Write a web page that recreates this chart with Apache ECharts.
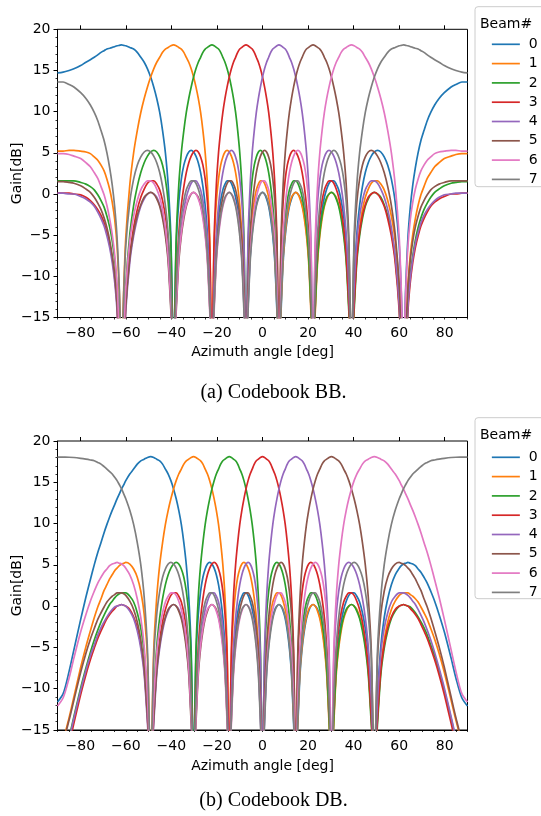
<!DOCTYPE html>
<html>
<head>
<meta charset="utf-8">
<script src="https://cdn.jsdelivr.net/npm/echarts/dist/echarts.min.js"></script>
<style>
html,body{margin:0;padding:0;background:#fff;}
#chart{width:541px;height:816px;}
</style>
</head>
<body>
<div id="chart"></div>
<script>
// Azimuth angles (deg) shared by every curve
const angle = [
-90,-87.51,-84.91,
-82.81,-79.82,-77.52,-75.58,-73.87,-72.32,-70.89,-69.55,-68.30,-67.11,-65.98,-64.89,-63.85,-62.84,-61.87,-60.93,-60.02,
-58.26,-56.58,-54.98,-53.43,-51.94,-50.50,-49.10,-47.75,-46.43,-45.13,-43.87,-42.63,-41.41,-40.22,-39.05,-37.89,-36.76,-35.64,-34.54,-33.45,-32.37,-31.31,-30.26,-29.22,-28.19,-27.17,-26.16,-25.16,-24.17,-23.18,-22.21,-21.23,-20.27,-19.31,-18.36,-17.41,-16.47,-15.53,-14.59,-13.66,-12.74,-11.81,-10.89,-9.98,-9.06,-8.15,-7.24,-6.33,-5.42,-4.52,-3.61,-2.71,-1.80,-0.90,
0,
0.90,1.80,2.71,3.61,4.52,5.42,6.33,7.24,8.15,9.06,9.98,10.89,11.81,12.74,13.66,14.59,15.53,16.47,17.41,18.36,19.31,20.27,21.23,22.21,23.18,24.17,25.16,26.16,27.17,28.19,29.22,30.26,31.31,32.37,33.45,34.54,35.64,36.76,37.89,39.05,40.22,41.41,42.63,43.87,45.13,46.43,47.75,49.10,50.50,51.94,53.43,54.98,56.58,58.26,
60.02,60.93,61.87,62.84,63.85,64.89,65.98,67.11,68.30,69.55,70.89,72.32,73.87,75.58,77.52,79.82,82.81,
84.91,87.51,90
];

const beamNames = ['0','1','2','3','4','5','6','7'];
const beamColors = ['#1f77b4','#ff7f0e','#2ca02c','#d62728','#9467bd','#8c564b','#e377c2','#7f7f7f'];
const xTickLabels = [-80,-60,-40,-20,0,20,40,60,80];
const captionBB = '(a) Codebook BB.';
const captionDB = '(b) Codebook DB.';

// ---- Codebook BB gains (dB) ----
const bb0 = [14.7,14.8,15.0,
15.2,15.6,16.0,16.3,16.6,16.9,17.2,17.4,17.6,17.7,17.8,17.9,18.0,18.05,18.1,18.05,18.0,
17.8,17.6,17.2,16.6,16.0,15.2,
14.2,13.0,11.6,9.9,7.7,5.0,1.1,-5.3,
-20,-6.3,-1.0,1.8,3.5,4.5,5.1,5.3,
5.1,4.6,3.8,2.6,0.9,-1.4,-4.9,-11.0,
-20,-11.4,-5.7,-2.7,-0.8,0.5,1.2,1.6,
1.6,1.3,0.6,-0.4,-1.9,-4.1,-7.5,-13.4,
-20,-13.6,-7.8,-4.7,-2.6,-1.3,-0.4,0.0,
0.2,0.0,-0.6,-1.5,-3.0,-5.1,-8.3,-14.2,
-20,
-14.2,-8.3,-5.1,-3.0,-1.5,-0.6,0.0,0.2,
0.0,-0.4,-1.3,-2.6,-4.7,-7.8,-13.6,-20,
-13.4,-7.5,-4.1,-1.9,-0.4,0.6,1.3,1.6,
1.6,1.2,0.5,-0.8,-2.7,-5.7,-11.4,-20,
-11.0,-4.9,-1.4,0.9,2.6,3.8,4.6,5.1,
5.3,5.1,4.5,3.5,1.8,-1.0,
-6.3,-12.1,-20,-11.6,-5.3,-1.6,1.1,3.2,5.0,6.5,7.7,8.9,9.9,10.8,11.6,12.3,13.0,
13.3,13.6,13.6];

const bb1 = [5.2,5.2,5.3,
5.3,5.2,5.1,4.9,4.5,4.1,3.5,2.8,1.8,0.6,-1.0,-3.1,-6.3,-12.1,-20,-11.6,-5.3,
1.1,5.0,7.7,9.9,11.6,13.0,14.2,15.2,16.0,16.6,17.2,17.6,17.8,18.0,18.1,
18.0,17.8,17.6,17.2,16.6,16.0,15.2,
14.2,13.0,11.6,9.9,7.7,5.0,1.1,-5.3,
-20,-6.3,-1.0,1.8,3.5,4.5,5.1,5.3,
5.1,4.6,3.8,2.6,0.9,-1.4,-4.9,-11.0,
-20,-11.4,-5.7,-2.7,-0.8,0.5,1.2,1.6,
1.6,1.3,0.6,-0.4,-1.9,-4.1,-7.5,-13.4,
-20,-13.6,-7.8,-4.7,-2.6,-1.3,-0.4,0.0,
0.2,0.0,-0.6,-1.5,-3.0,-5.1,-8.3,-14.2,
-20,
-14.2,-8.3,-5.1,-3.0,-1.5,-0.6,0.0,0.2,
0.0,-0.4,-1.3,-2.6,-4.7,-7.8,-13.6,-20,
-13.4,-7.5,-4.1,-1.9,-0.4,0.6,1.3,1.6,
1.6,1.2,0.5,-0.8,-2.7,-5.7,
-11.4,-17.3,-20,-17.1,-11.0,-7.4,-4.9,-3.0,-1.4,-0.1,0.9,1.9,2.6,3.3,3.8,4.3,4.6,
4.8,4.9,4.9];

const bb2 = [1.6,1.6,1.6,
1.6,1.4,1.2,0.9,0.5,-0.1,-0.8,-1.6,-2.7,-4.0,-5.7,-8.0,-11.4,-17.3,-20,-17.1,-11.0,
-4.9,-1.4,0.9,2.6,3.8,4.6,5.1,
5.3,5.1,4.5,3.5,1.8,-1.0,-6.3,-20,
-5.3,1.1,5.0,7.7,9.9,11.6,13.0,14.2,
15.2,16.0,16.6,17.2,17.6,17.8,18.0,18.1,
18.0,17.8,17.6,17.2,16.6,16.0,15.2,
14.2,13.0,11.6,9.9,7.7,5.0,1.1,-5.3,
-20,-6.3,-1.0,1.8,3.5,4.5,5.1,5.3,
5.1,4.6,3.8,2.6,0.9,-1.4,-4.9,-11.0,
-20,-11.4,-5.7,-2.7,-0.8,0.5,1.2,1.6,
1.6,1.3,0.6,-0.4,-1.9,-4.1,-7.5,-13.4,
-20,-13.6,-7.8,-4.7,-2.6,-1.3,-0.4,0.0,
0.2,0.0,-0.6,-1.5,-3.0,-5.1,-8.3,-14.2,
-20,
-14.2,-8.3,-5.1,-3.0,-1.5,-0.6,0.0,0.2,
0.0,-0.4,-1.3,-2.6,-4.7,-7.8,
-13.6,-19.5,-20,-19.4,-13.4,-9.9,-7.5,-5.6,-4.1,-2.9,-1.9,-1.1,-0.4,0.2,0.6,1.0,1.3,
1.4,1.5,1.5];

const bb3 = [0.1,0.1,0.1,
0.0,-0.1,-0.4,-0.8,-1.3,-1.9,-2.6,-3.5,-4.7,-6.0,-7.8,-10.2,-13.6,-19.5,-20,-19.4,-13.4,
-7.5,-4.1,-1.9,-0.4,0.6,1.3,1.6,
1.6,1.2,0.5,-0.8,-2.7,-5.7,-11.4,-20,
-11.0,-4.9,-1.4,0.9,2.6,3.8,4.6,5.1,
5.3,5.1,4.5,3.5,1.8,-1.0,-6.3,-20,
-5.3,1.1,5.0,7.7,9.9,11.6,13.0,14.2,
15.2,16.0,16.6,17.2,17.6,17.8,18.0,18.1,
18.0,17.8,17.6,17.2,16.6,16.0,15.2,
14.2,13.0,11.6,9.9,7.7,5.0,1.1,-5.3,
-20,-6.3,-1.0,1.8,3.5,4.5,5.1,5.3,
5.1,4.6,3.8,2.6,0.9,-1.4,-4.9,-11.0,
-20,-11.4,-5.7,-2.7,-0.8,0.5,1.2,1.6,
1.6,1.3,0.6,-0.4,-1.9,-4.1,-7.5,-13.4,
-20,-13.6,-7.8,-4.7,-2.6,-1.3,-0.4,0.0,
0.2,0.0,-0.6,-1.5,-3.0,-5.1,-8.3,
-14.2,-20.2,-20,-20.2,-14.2,-10.7,-8.3,-6.5,-5.1,-3.9,-3.0,-2.2,-1.5,-1.0,-0.6,-0.3,0.0,
0.0,0.1,0.1];

const bb4 = [0.1,0.1,0.0,
0.0,-0.3,-0.6,-1.0,-1.5,-2.2,-3.0,-3.9,-5.1,-6.5,-8.3,-10.7,-14.2,-20.2,-20,-20.2,-14.2,
-8.3,-5.1,-3.0,-1.5,-0.6,0.0,0.2,
0.0,-0.4,-1.3,-2.6,-4.7,-7.8,-13.6,-20,
-13.4,-7.5,-4.1,-1.9,-0.4,0.6,1.3,1.6,
1.6,1.2,0.5,-0.8,-2.7,-5.7,-11.4,-20,
-11.0,-4.9,-1.4,0.9,2.6,3.8,4.6,5.1,
5.3,5.1,4.5,3.5,1.8,-1.0,-6.3,-20,
-5.3,1.1,5.0,7.7,9.9,11.6,13.0,14.2,
15.2,16.0,16.6,17.2,17.6,17.8,18.0,18.1,
18.0,17.8,17.6,17.2,16.6,16.0,15.2,
14.2,13.0,11.6,9.9,7.7,5.0,1.1,-5.3,
-20,-6.3,-1.0,1.8,3.5,4.5,5.1,5.3,
5.1,4.6,3.8,2.6,0.9,-1.4,-4.9,-11.0,
-20,-11.4,-5.7,-2.7,-0.8,0.5,1.2,1.6,
1.6,1.3,0.6,-0.4,-1.9,-4.1,-7.5,
-13.4,-19.4,-20,-19.5,-13.6,-10.2,-7.8,-6.0,-4.7,-3.5,-2.6,-1.9,-1.3,-0.8,-0.4,-0.1,0.0,
0.1,0.1,0.1];

const bb5 = [1.5,1.5,1.4,
1.3,1.0,0.6,0.2,-0.4,-1.1,-1.9,-2.9,-4.1,-5.6,-7.5,-9.9,-13.4,-19.4,-20,-19.5,-13.6,
-7.8,-4.7,-2.6,-1.3,-0.4,0.0,
0.2,0.0,-0.6,-1.5,-3.0,-5.1,-8.3,-14.2,
-20,
-14.2,-8.3,-5.1,-3.0,-1.5,-0.6,0.0,0.2,
0.0,-0.4,-1.3,-2.6,-4.7,-7.8,-13.6,-20,
-13.4,-7.5,-4.1,-1.9,-0.4,0.6,1.3,1.6,
1.6,1.2,0.5,-0.8,-2.7,-5.7,-11.4,-20,
-11.0,-4.9,-1.4,0.9,2.6,3.8,4.6,5.1,
5.3,5.1,4.5,3.5,1.8,-1.0,-6.3,-20,
-5.3,1.1,5.0,7.7,9.9,11.6,13.0,14.2,
15.2,16.0,16.6,17.2,17.6,17.8,18.0,
18.1,18.0,17.8,17.6,17.2,16.6,16.0,15.2,
14.2,13.0,11.6,9.9,7.7,5.0,1.1,-5.3,
-20,-6.3,-1.0,1.8,3.5,4.5,5.1,5.3,
5.1,4.6,3.8,2.6,0.9,-1.4,-4.9,
-11.0,-17.1,-20,-17.3,-11.4,-8.0,-5.7,-4.0,-2.7,-1.6,-0.8,-0.1,0.5,0.9,1.2,1.4,1.6,
1.6,1.6,1.6];

const bb6 = [4.9,4.9,4.8,
4.6,4.3,3.8,3.3,2.6,1.9,0.9,-0.1,-1.4,-3.0,-4.9,-7.4,-11.0,-17.1,-20,-17.3,-11.4,
-5.7,-2.7,-0.8,0.5,1.2,1.6,
1.6,1.3,0.6,-0.4,-1.9,-4.1,-7.5,-13.4,
-20,-13.6,-7.8,-4.7,-2.6,-1.3,-0.4,0.0,
0.2,0.0,-0.6,-1.5,-3.0,-5.1,-8.3,-14.2,
-20,
-14.2,-8.3,-5.1,-3.0,-1.5,-0.6,0.0,0.2,
0.0,-0.4,-1.3,-2.6,-4.7,-7.8,-13.6,-20,
-13.4,-7.5,-4.1,-1.9,-0.4,0.6,1.3,1.6,
1.6,1.2,0.5,-0.8,-2.7,-5.7,-11.4,-20,
-11.0,-4.9,-1.4,0.9,2.6,3.8,4.6,5.1,
5.3,5.1,4.5,3.5,1.8,-1.0,-6.3,-20,
-5.3,1.1,5.0,7.7,9.9,11.6,13.0,14.2,
15.2,16.0,16.6,17.2,17.6,17.8,18.0,
18.1,18.0,17.8,17.6,17.2,16.6,16.0,15.2,
14.2,13.0,11.6,9.9,7.7,5.0,1.1,
-5.3,-11.6,-20,-12.1,-6.3,-3.1,-1.0,0.6,1.8,2.8,3.5,4.1,4.5,4.9,5.1,5.2,5.3,
5.3,5.2,5.2];

const bb7 = [13.6,13.6,13.3,
13.0,12.3,11.6,10.8,9.9,8.9,7.7,6.5,5.0,3.2,1.1,-1.6,-5.3,-11.6,-20,-12.1,-6.3,
-1.0,1.8,3.5,4.5,5.1,5.3,
5.1,4.6,3.8,2.6,0.9,-1.4,-4.9,-11.0,
-20,-11.4,-5.7,-2.7,-0.8,0.5,1.2,1.6,
1.6,1.3,0.6,-0.4,-1.9,-4.1,-7.5,-13.4,
-20,-13.6,-7.8,-4.7,-2.6,-1.3,-0.4,0.0,
0.2,0.0,-0.6,-1.5,-3.0,-5.1,-8.3,-14.2,
-20,
-14.2,-8.3,-5.1,-3.0,-1.5,-0.6,0.0,0.2,
0.0,-0.4,-1.3,-2.6,-4.7,-7.8,-13.6,-20,
-13.4,-7.5,-4.1,-1.9,-0.4,0.6,1.3,1.6,
1.6,1.2,0.5,-0.8,-2.7,-5.7,-11.4,-20,
-11.0,-4.9,-1.4,0.9,2.6,3.8,4.6,5.1,
5.3,5.1,4.5,3.5,1.8,-1.0,-6.3,-20,
-5.3,1.1,5.0,7.7,9.9,11.6,13.0,14.2,
15.2,16.0,16.6,17.2,17.6,17.8,
18.0,18.05,18.1,18.05,18.0,17.9,17.8,17.7,17.6,17.4,17.2,16.9,16.6,16.3,16.0,15.6,15.2,
15.0,14.8,14.7];

// ---- Codebook DB gains (dB) ----
const db0 = [-11.6,-10.6,-7.9,
-5.3,-1.6,1.1,3.2,5.0,6.5,7.7,8.9,9.9,10.8,11.6,12.3,13.0,13.6,14.2,14.7,15.2,
16.0,16.6,17.2,17.6,17.8,18.0,18.1,
18.0,17.8,17.6,17.2,16.6,16.0,15.2,
14.2,13.0,11.6,9.9,7.7,5.0,1.1,-5.3,
-20,-6.3,-1.0,1.8,3.5,4.5,5.1,5.3,
5.1,4.6,3.8,2.6,0.9,-1.4,-4.9,-11.0,
-20,-11.4,-5.7,-2.7,-0.8,0.5,1.2,1.6,
1.6,1.3,0.6,-0.4,-1.9,-4.1,-7.5,-13.4,
-20,-13.6,-7.8,-4.7,-2.6,-1.3,-0.4,0.0,
0.2,0.0,-0.6,-1.5,-3.0,-5.1,-8.3,-14.2,
-20,
-14.2,-8.3,-5.1,-3.0,-1.5,-0.6,0.0,0.2,
0.0,-0.4,-1.3,-2.6,-4.7,-7.8,-13.6,-20,
-13.4,-7.5,-4.1,-1.9,-0.4,0.6,1.3,1.6,
1.6,1.2,0.5,-0.8,-2.7,-5.7,-11.4,-20,
-11.0,-4.9,-1.4,0.9,2.6,3.8,
4.6,4.9,5.1,5.2,5.3,5.2,5.1,4.9,4.5,4.1,3.5,2.8,1.8,0.6,-1.0,-3.1,-6.3,
-8.7,-11.1,-12.1];

const db1 = [-17.1,-16.1,-13.5,
-11.0,-7.4,-4.9,-3.0,-1.4,-0.1,0.9,1.9,2.6,3.3,3.8,4.3,4.6,4.9,5.1,5.2,5.3,
5.1,4.5,3.5,1.8,-1.0,-6.3,-20,
-5.3,1.1,5.0,7.7,9.9,11.6,13.0,14.2,
15.2,16.0,16.6,17.2,17.6,17.8,18.0,18.1,
18.0,17.8,17.6,17.2,16.6,16.0,15.2,
14.2,13.0,11.6,9.9,7.7,5.0,1.1,-5.3,
-20,-6.3,-1.0,1.8,3.5,4.5,5.1,5.3,
5.1,4.6,3.8,2.6,0.9,-1.4,-4.9,-11.0,
-20,-11.4,-5.7,-2.7,-0.8,0.5,1.2,1.6,
1.6,1.3,0.6,-0.4,-1.9,-4.1,-7.5,-13.4,
-20,-13.6,-7.8,-4.7,-2.6,-1.3,-0.4,0.0,
0.2,0.0,-0.6,-1.5,-3.0,-5.1,-8.3,-14.2,
-20,
-14.2,-8.3,-5.1,-3.0,-1.5,-0.6,0.0,0.2,
0.0,-0.4,-1.3,-2.6,-4.7,-7.8,-13.6,-20,
-13.4,-7.5,-4.1,-1.9,-0.4,0.6,
1.3,1.5,1.6,1.6,1.6,1.4,1.2,0.9,0.5,-0.1,-0.8,-1.6,-2.7,-4.0,-5.7,-8.0,-11.4,
-13.8,-16.3,-17.3];

const db2 = [-19.4,-18.5,-15.9,
-13.4,-9.9,-7.5,-5.6,-4.1,-2.9,-1.9,-1.1,-0.4,0.2,0.6,1.0,1.3,1.5,1.6,1.6,1.6,
1.2,0.5,-0.8,-2.7,-5.7,-11.4,-20,
-11.0,-4.9,-1.4,0.9,2.6,3.8,4.6,5.1,
5.3,5.1,4.5,3.5,1.8,-1.0,-6.3,-20,
-5.3,1.1,5.0,7.7,9.9,11.6,13.0,14.2,
15.2,16.0,16.6,17.2,17.6,17.8,18.0,18.1,
18.0,17.8,17.6,17.2,16.6,16.0,15.2,
14.2,13.0,11.6,9.9,7.7,5.0,1.1,-5.3,
-20,-6.3,-1.0,1.8,3.5,4.5,5.1,5.3,
5.1,4.6,3.8,2.6,0.9,-1.4,-4.9,-11.0,
-20,-11.4,-5.7,-2.7,-0.8,0.5,1.2,1.6,
1.6,1.3,0.6,-0.4,-1.9,-4.1,-7.5,-13.4,
-20,-13.6,-7.8,-4.7,-2.6,-1.3,-0.4,0.0,
0.2,0.0,-0.6,-1.5,-3.0,-5.1,-8.3,-14.2,
-20,
-14.2,-8.3,-5.1,-3.0,-1.5,-0.6,
0.0,0.1,0.2,0.1,0.0,-0.1,-0.4,-0.8,-1.3,-1.9,-2.6,-3.5,-4.7,-6.0,-7.8,-10.2,-13.6,
-16.1,-18.6,-19.5];

const db3 = [-20.2,-19.2,-16.7,
-14.2,-10.7,-8.3,-6.5,-5.1,-3.9,-3.0,-2.2,-1.5,-1.0,-0.6,-0.3,0.0,0.1,0.2,0.1,0.0,
-0.4,-1.3,-2.6,-4.7,-7.8,-13.6,-20,
-13.4,-7.5,-4.1,-1.9,-0.4,0.6,1.3,1.6,
1.6,1.2,0.5,-0.8,-2.7,-5.7,-11.4,-20,
-11.0,-4.9,-1.4,0.9,2.6,3.8,4.6,5.1,
5.3,5.1,4.5,3.5,1.8,-1.0,-6.3,-20,
-5.3,1.1,5.0,7.7,9.9,11.6,13.0,14.2,
15.2,16.0,16.6,17.2,17.6,17.8,18.0,18.1,
18.0,17.8,17.6,17.2,16.6,16.0,15.2,
14.2,13.0,11.6,9.9,7.7,5.0,1.1,-5.3,
-20,-6.3,-1.0,1.8,3.5,4.5,5.1,5.3,
5.1,4.6,3.8,2.6,0.9,-1.4,-4.9,-11.0,
-20,-11.4,-5.7,-2.7,-0.8,0.5,1.2,1.6,
1.6,1.3,0.6,-0.4,-1.9,-4.1,-7.5,-13.4,
-20,-13.6,-7.8,-4.7,-2.6,-1.3,-0.4,
0.0,0.1,0.2,0.1,0.0,-0.3,-0.6,-1.0,-1.5,-2.2,-3.0,-3.9,-5.1,-6.5,-8.3,-10.7,-14.2,
-16.7,-19.2,-20.2];

const db4 = [-19.5,-18.6,-16.1,
-13.6,-10.2,-7.8,-6.0,-4.7,-3.5,-2.6,-1.9,-1.3,-0.8,-0.4,-0.1,0.0,0.1,0.2,0.1,0.0,
-0.6,-1.5,-3.0,-5.1,-8.3,-14.2,
-20,
-14.2,-8.3,-5.1,-3.0,-1.5,-0.6,0.0,0.2,
0.0,-0.4,-1.3,-2.6,-4.7,-7.8,-13.6,-20,
-13.4,-7.5,-4.1,-1.9,-0.4,0.6,1.3,1.6,
1.6,1.2,0.5,-0.8,-2.7,-5.7,-11.4,-20,
-11.0,-4.9,-1.4,0.9,2.6,3.8,4.6,5.1,
5.3,5.1,4.5,3.5,1.8,-1.0,-6.3,-20,
-5.3,1.1,5.0,7.7,9.9,11.6,13.0,14.2,
15.2,16.0,16.6,17.2,17.6,17.8,18.0,
18.1,18.0,17.8,17.6,17.2,16.6,16.0,15.2,
14.2,13.0,11.6,9.9,7.7,5.0,1.1,-5.3,
-20,-6.3,-1.0,1.8,3.5,4.5,5.1,5.3,
5.1,4.6,3.8,2.6,0.9,-1.4,-4.9,-11.0,
-20,-11.4,-5.7,-2.7,-0.8,0.5,1.2,
1.6,1.6,1.6,1.5,1.3,1.0,0.6,0.2,-0.4,-1.1,-1.9,-2.9,-4.1,-5.6,-7.5,-9.9,-13.4,
-15.9,-18.5,-19.4];

const db5 = [-17.3,-16.3,-13.8,
-11.4,-8.0,-5.7,-4.0,-2.7,-1.6,-0.8,-0.1,0.5,0.9,1.2,1.4,1.6,1.6,1.6,1.5,1.3,
0.6,-0.4,-1.9,-4.1,-7.5,-13.4,
-20,-13.6,-7.8,-4.7,-2.6,-1.3,-0.4,0.0,
0.2,0.0,-0.6,-1.5,-3.0,-5.1,-8.3,-14.2,
-20,
-14.2,-8.3,-5.1,-3.0,-1.5,-0.6,0.0,0.2,
0.0,-0.4,-1.3,-2.6,-4.7,-7.8,-13.6,-20,
-13.4,-7.5,-4.1,-1.9,-0.4,0.6,1.3,1.6,
1.6,1.2,0.5,-0.8,-2.7,-5.7,-11.4,-20,
-11.0,-4.9,-1.4,0.9,2.6,3.8,4.6,5.1,
5.3,5.1,4.5,3.5,1.8,-1.0,-6.3,-20,
-5.3,1.1,5.0,7.7,9.9,11.6,13.0,14.2,
15.2,16.0,16.6,17.2,17.6,17.8,18.0,
18.1,18.0,17.8,17.6,17.2,16.6,16.0,15.2,
14.2,13.0,11.6,9.9,7.7,5.0,1.1,-5.3,
-20,-6.3,-1.0,1.8,3.5,4.5,5.1,
5.3,5.2,5.1,4.9,4.6,4.3,3.8,3.3,2.6,1.9,0.9,-0.1,-1.4,-3.0,-4.9,-7.4,-11.0,
-13.5,-16.1,-17.1];

const db6 = [-12.1,-11.1,-8.7,
-6.3,-3.1,-1.0,0.6,1.8,2.8,3.5,4.1,4.5,4.9,5.1,5.2,5.3,5.2,5.1,4.9,4.6,
3.8,2.6,0.9,-1.4,-4.9,-11.0,
-20,-11.4,-5.7,-2.7,-0.8,0.5,1.2,1.6,
1.6,1.3,0.6,-0.4,-1.9,-4.1,-7.5,-13.4,
-20,-13.6,-7.8,-4.7,-2.6,-1.3,-0.4,0.0,
0.2,0.0,-0.6,-1.5,-3.0,-5.1,-8.3,-14.2,
-20,
-14.2,-8.3,-5.1,-3.0,-1.5,-0.6,0.0,0.2,
0.0,-0.4,-1.3,-2.6,-4.7,-7.8,-13.6,-20,
-13.4,-7.5,-4.1,-1.9,-0.4,0.6,1.3,1.6,
1.6,1.2,0.5,-0.8,-2.7,-5.7,-11.4,-20,
-11.0,-4.9,-1.4,0.9,2.6,3.8,4.6,5.1,
5.3,5.1,4.5,3.5,1.8,-1.0,-6.3,-20,
-5.3,1.1,5.0,7.7,9.9,11.6,13.0,14.2,
15.2,16.0,16.6,17.2,17.6,17.8,18.0,
18.1,18.0,17.8,17.6,17.2,16.6,16.0,
15.2,14.7,14.2,13.6,13.0,12.3,11.6,10.8,9.9,8.9,7.7,6.5,5.0,3.2,1.1,-1.6,-5.3,
-7.9,-10.6,-11.6];

const db7 = [18.05,18.04,18.03,
18.0,17.9,17.8,17.7,17.6,17.4,17.2,16.9,16.6,16.3,16.0,15.6,15.2,14.7,14.2,13.6,13.0,
11.6,9.9,7.7,5.0,1.1,-5.3,
-20,-6.3,-1.0,1.8,3.5,4.5,5.1,5.3,
5.1,4.6,3.8,2.6,0.9,-1.4,-4.9,-11.0,
-20,-11.4,-5.7,-2.7,-0.8,0.5,1.2,1.6,
1.6,1.3,0.6,-0.4,-1.9,-4.1,-7.5,-13.4,
-20,-13.6,-7.8,-4.7,-2.6,-1.3,-0.4,0.0,
0.2,0.0,-0.6,-1.5,-3.0,-5.1,-8.3,-14.2,
-20,
-14.2,-8.3,-5.1,-3.0,-1.5,-0.6,0.0,0.2,
0.0,-0.4,-1.3,-2.6,-4.7,-7.8,-13.6,-20,
-13.4,-7.5,-4.1,-1.9,-0.4,0.6,1.3,1.6,
1.6,1.2,0.5,-0.8,-2.7,-5.7,-11.4,-20,
-11.0,-4.9,-1.4,0.9,2.6,3.8,4.6,5.1,
5.3,5.1,4.5,3.5,1.8,-1.0,-6.3,-20,
-5.3,1.1,5.0,7.7,9.9,11.6,
13.0,13.6,14.2,14.7,15.2,15.6,16.0,16.3,16.6,16.9,17.2,17.4,17.6,17.7,17.8,17.9,18.0,
18.03,18.04,18.05];

const bbBeams = [bb0,bb1,bb2,bb3,bb4,bb5,bb6,bb7];
const dbBeams = [db0,db1,db2,db3,db4,db5,db6,db7];

[...bbBeams, ...dbBeams].forEach((a, k) => {
  if (a.length !== angle.length) console.error('length mismatch', k, a.length, angle.length);
});

const FONT = 'DejaVu Sans';
function fmtTick(v) { return String(v).replace('-', '\u2212'); }
function pair(arr) { return angle.map((a, i) => [a, arr[i]]); }

const grids = [
  {left: 57.5, top: 29.3, width: 410, height: 288.2},
  {left: 57.5, top: 441, width: 410, height: 289}
];

function xAxes(gi) {
  return [
    {
      type: 'value', gridIndex: gi, min: -90, max: 90, interval: 5,
      axisLine: {show: true, onZero: false, lineStyle: {color: '#000', width: 1}},
      axisTick: {show: true, length: 2, lineStyle: {color: '#000', width: 0.8}},
      axisLabel: {show: true, customValues: xTickLabels, formatter: fmtTick, color: '#000', fontSize: 14, fontFamily: FONT, margin: 9},
      splitLine: {show: false}
    },
    {
      type: 'value', gridIndex: gi, min: -90, max: 90, interval: 5,
      axisLine: {show: false, onZero: false},
      axisTick: {show: true, customValues: xTickLabels, length: 4, lineStyle: {color: '#000', width: 1}},
      axisLabel: {show: false},
      splitLine: {show: false}
    }
  ];
}
function yAxis(gi) {
  return {
    type: 'value', gridIndex: gi, min: -15, max: 20, interval: 5,
    axisLine: {show: true, onZero: false, lineStyle: {color: '#000', width: 1}},
    axisTick: {show: true, length: 4, lineStyle: {color: '#000', width: 1}},
    minorTick: {show: true, splitNumber: 5, length: 2, lineStyle: {color: '#000', width: 0.8}},
    axisLabel: {formatter: fmtTick, color: '#000', fontSize: 14, fontFamily: FONT, margin: 7},
    splitLine: {show: false}, minorSplitLine: {show: false}
  };
}

const series = [];
[bbBeams, dbBeams].forEach((beams, g) => {
  beams.forEach((arr, k) => {
    series.push({
      name: beamNames[k], type: 'line', xAxisIndex: g * 2, yAxisIndex: g,
      data: pair(arr), showSymbol: false, symbol: 'none', smooth: 0.3,
      clip: true, animation: false,
      lineStyle: {width: 1.7, color: beamColors[k]},
      itemStyle: {color: beamColors[k]},
      emphasis: {disabled: true}
    });
  });
});

function legendCfg(top) {
  return {
    data: beamNames, orient: 'vertical', left: 486, top: top,
    itemWidth: 28, itemHeight: 14, itemGap: 5.3, selectedMode: false,
    itemStyle: {opacity: 0},
    lineStyle: {width: 1.7},
    textStyle: {fontSize: 14, fontFamily: FONT, color: '#000', padding: [0, 0, 0, 4]}
  };
}

function txt(x, y, text, size, family, extra) {
  return Object.assign({
    type: 'text', x: x, y: y, z: 100,
    style: {text: text, fill: '#000', fontSize: size, fontFamily: family, align: 'center', verticalAlign: 'middle'}
  }, extra || {});
}

const option = {
  animation: false,
  color: beamColors,
  grid: grids.map(g => Object.assign({show: true, borderColor: '#000', borderWidth: 1, backgroundColor: 'transparent'}, g)),
  xAxis: [...xAxes(0), ...xAxes(1)],
  yAxis: [yAxis(0), yAxis(1)],
  legend: [legendCfg(32.3), legendCfg(445.3)],
  graphic: [
    {type: 'rect', z: 1, shape: {x: 475, y: 6.7, width: 90, height: 180, r: 3}, style: {fill: '#fff', stroke: '#cccccc', lineWidth: 1}},
    {type: 'rect', z: 1, shape: {x: 475, y: 417.7, width: 90, height: 181, r: 3}, style: {fill: '#fff', stroke: '#cccccc', lineWidth: 1}},
    {type: 'text', x: 480, y: 24, z: 100, style: {text: 'Beam#', fill: '#000', fontSize: 14, fontFamily: FONT, align: 'left', verticalAlign: 'middle'}},
    {type: 'text', x: 480, y: 435, z: 100, style: {text: 'Beam#', fill: '#000', fontSize: 14, fontFamily: FONT, align: 'left', verticalAlign: 'middle'}},
    txt(262.5, 352, 'Azimuth angle [deg]', 14, FONT),
    txt(262.5, 766, 'Azimuth angle [deg]', 14, FONT),
    txt(17.5, 173.4, 'Gain[dB]', 14, FONT, {rotation: Math.PI / 2}),
    txt(17.5, 585.5, 'Gain[dB]', 14, FONT, {rotation: Math.PI / 2}),
    txt(273.5, 393, captionBB, 20, 'Liberation Serif'),
    txt(273.5, 801, captionDB, 20, 'Liberation Serif')
  ],
  series: series
};

const chart = echarts.init(document.getElementById('chart'), null, {renderer: 'canvas', width: 541, height: 816});
chart.setOption(option);
</script>
</body>
</html>
